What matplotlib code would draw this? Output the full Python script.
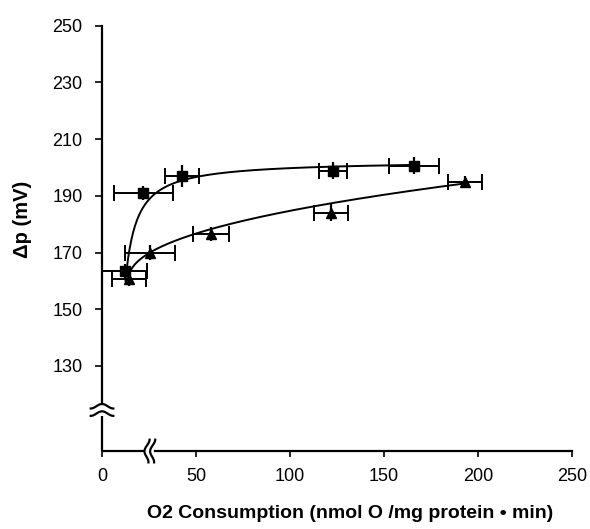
import numpy as np
import matplotlib.pyplot as plt

plt.rcParams["font.family"] = ["Liberation Sans", "DejaVu Sans"]

# squares
sq_x = [12.0, 22.0, 42.5, 123.0, 166.0]
sq_y = [163.5, 191.0, 197.0, 198.8, 200.6]
sq_xerr = [12.0, 15.5, 9.0, 7.5, 13.5]
sq_yerr = [2.5, 2.5, 4.0, 3.0, 3.0]

# triangles
tri_x = [14.5, 25.5, 58.0, 122.0, 193.0]
tri_y = [160.8, 170.0, 176.5, 184.0, 195.0]
tri_xerr = [9.0, 13.5, 9.5, 9.0, 9.0]
tri_yerr = [2.5, 2.5, 2.5, 3.0, 2.0]

xticks = [0, 50, 100, 150, 200, 250]
yticks = [130, 150, 170, 190, 210, 230, 250]

fig = plt.figure(figsize=(5.9, 5.29), dpi=100)
ax = fig.add_axes([0.1729, 0.1474, 0.7966, 0.804])

# fitted curves
xs = np.linspace(12.5, 166, 300)
d = xs - 12.5
ax.plot(xs, 160 + 42.5 * d / (6 + d), color="black", lw=1.4)
xt = np.linspace(14, 193, 300)
ax.plot(xt, 160 + 3.33 * (xt - 14) ** 0.45, color="black", lw=1.4)

for x, y, xe, ye, m in [(sq_x, sq_y, sq_xerr, sq_yerr, "s"),
                        (tri_x, tri_y, tri_xerr, tri_yerr, "^")]:
    ax.errorbar(x, y, xerr=xe, fmt="none", ecolor="black",
                capsize=6, capthick=1.4, elinewidth=1.4, clip_on=False)
    ax.errorbar(x, y, yerr=ye, fmt=m, color="black", markersize=6.5,
                capsize=0, elinewidth=1.6, clip_on=False)

ax.set_xlim(0, 250)
ax.set_ylim(100, 250)
ax.set_xticks(xticks)
ax.set_yticks(yticks)
ax.tick_params(axis="x", direction="out", length=4, width=1.2, pad=8, labelsize=13)
ax.tick_params(axis="y", direction="out", length=5, width=1.2, pad=9, labelsize=13)

for s in ["top", "right"]:
    ax.spines[s].set_visible(False)
ax.spines["left"].set_linewidth(1.6)
ax.spines["bottom"].set_linewidth(1.6)
ax.spines["left"].set_bounds(116.5, 250)
ax.spines["bottom"].set_bounds(28, 250)

# lower pieces of the broken axes
ax.plot([0, 0], [100, 112.5], color="black", lw=1.6, clip_on=False, solid_capstyle="butt")
ax.plot([0, 23], [100, 100], color="black", lw=1.6, clip_on=False, solid_capstyle="butt")

# break marks
t = np.linspace(0, 1, 60)
bx = -6 + 12 * t
for off in (113.2, 115.8):
    ax.plot(bx, off - 0.8 * np.sin(2 * np.pi * t + np.pi / 2),
            color="black", lw=1.6, clip_on=False)
by = 96 + 8 * t
for off in (23.5, 26.5):
    ax.plot(off + 1.2 * np.sin(2 * np.pi * t + np.pi / 2) + 0.6 * t, by,
            color="black", lw=1.6, clip_on=False)

ax.set_xlabel("O2 Consumption (nmol O /mg protein \u2022 min)", fontsize=14,
              fontweight="bold")
ax.xaxis.set_label_coords(0.528, -0.128)
ax.set_ylabel("\u0394p (mV)", fontsize=14.5, fontweight="bold")
ax.yaxis.set_label_coords(-0.15, 0.545)

fig.savefig("out.png", dpi=100)
